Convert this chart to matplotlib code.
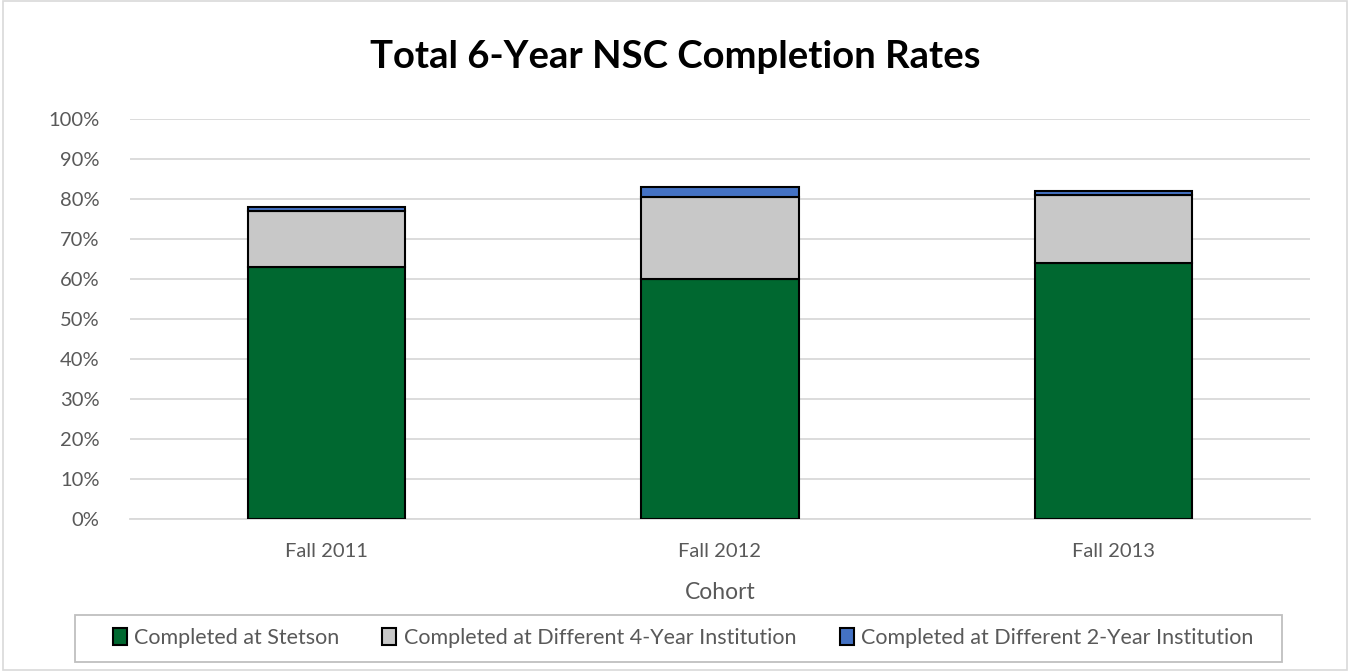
import matplotlib
matplotlib.use("Agg")
import matplotlib.pyplot as plt
from matplotlib.patches import Rectangle
from matplotlib.ticker import PercentFormatter

cohorts = ["Fall 2011", "Fall 2012", "Fall 2013"]
stetson = [63, 60, 64]
diff4 = [14, 20.4, 17]
diff2 = [1, 2.6, 1]
series_names = ["Completed at Stetson", "Completed at Different 4-Year Institution",
                "Completed at Different 2-Year Institution"]
colors = ["#006830", "#C8C8C8", "#4472C4"]

plt.rcParams['font.family'] = ['Lato', 'DejaVu Sans']

fig = plt.figure(figsize=(13.5, 6.71), dpi=100)
ax = fig.add_axes([130/1350, 1-519/671, 1180/1350, 400/671])

x = list(range(len(cohorts)))
bottom = [0]*len(cohorts)
handles = []
for vals, name, c in zip([stetson, diff4, diff2], series_names, colors):
    vals_f = [v/100 for v in vals]
    b = ax.bar(x, vals_f, width=0.4, bottom=bottom, color=c, edgecolor="black",
               linewidth=1.5, label=name, zorder=3)
    handles.append(b)
    bottom = [bb + v for bb, v in zip(bottom, vals_f)]

ax.set_xlim(-0.5, 2.5)
ax.set_ylim(0, 1.0)
ax.set_yticks([i/10 for i in range(11)])
ax.yaxis.set_major_formatter(PercentFormatter(1.0, decimals=0))
ax.grid(axis='y', color='#D9D9D9', linewidth=1.3, zorder=0)
ax.set_axisbelow(True)
for s in ['top', 'right', 'left']:
    ax.spines[s].set_visible(False)
ax.spines['bottom'].set_color('#D9D9D9')
ax.spines['bottom'].set_linewidth(1.3)
ax.tick_params(axis='both', length=0, labelsize=14.5, colors='#595959')
ax.tick_params(axis='y', pad=22)
ax.tick_params(axis='x', pad=17)
ax.set_xticks(x)
ax.set_xticklabels(cohorts)
ax.set_xlabel("Cohort", fontsize=16.5, color='#595959', labelpad=16)

fig.text(0.5, 1-57/671, "Total 6-Year NSC Completion Rates", ha='center', va='center',
         fontsize=27.5, fontweight='bold', color='black')

leg = fig.legend(handles=handles, labels=series_names, loc='center',
                 bbox_to_anchor=(683/1350, 1-638/671), ncol=3, fontsize=15.5,
                 frameon=False,
                 handlelength=0.65, handleheight=0.85, handletextpad=0.35,
                 columnspacing=2.0, borderpad=0.3)
for t in leg.get_texts():
    t.set_color('#595959')

fig.patches.append(Rectangle((75/1350, 1-662/671), 1207/1350, 47/671, transform=fig.transFigure,
                             fill=False, edgecolor='#BFBFBF', linewidth=1.3))
fig.patches.append(Rectangle((0.002, 0.002), 0.996, 0.996, transform=fig.transFigure,
                             fill=False, edgecolor='#D9D9D9', linewidth=1.2))

fig.savefig("out.png", dpi=100)
